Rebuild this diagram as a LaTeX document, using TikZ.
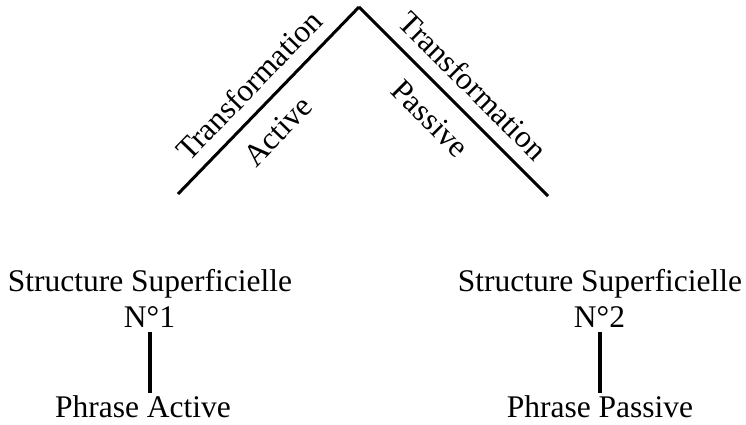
\documentclass[tikz,border=0pt]{standalone}
\usepackage{fontspec}
\setmainfont{Liberation Serif}
\usepackage{tikz}
\tikzset{
    branch/.style={line width=3pt}, % 定义两条分支线的样式
    stem/.style={line width=4pt}, % 定义竖线的样式
    leaf/.style={anchor=base} % 定义底部文字的样式
}

\begin{document}
\begin{tikzpicture}[x=1pt, y=1pt, font=\fontsize{31.5}{36}\selectfont]
            \useasboundingbox (0,0) rectangle (746,425);
            \coordinate (top) at (359,418);
            \coordinate (lend) at (178,231);
            \coordinate (rend) at (548,229);

            \draw[branch] (lend) -- (top)
                node[pos=0.49, sloped, above, inner sep=12pt] (tl) {Transformation}
                node[pos=0.44, sloped, below, inner sep=16pt] (al) {Active};
            \draw[branch] (top) -- (rend)
                node[pos=0.51, sloped, above, inner sep=12.5pt] (tr) {Transformation}
                node[pos=0.484, sloped, below, inner sep=16.5pt] (pr) {Passive};

            \node[leaf] (ss1) at (150,133) {Structure Superficielle};
            \node[leaf] (n1) at (149.5,97) {N°1};
            \node[leaf] (pa) at (143,7) {Phrase Active};
            \node[leaf] (ss2) at (600,133) {Structure Superficielle};
            \node[leaf] (n2) at (599.5,97) {N°2};
            \node[leaf] (pp) at (600,7) {Phrase Passive};

            \draw[stem] (n1.south) -- (n1.south |- pa.north);
            \draw[stem] (n2.south) -- (n2.south |- pp.north);
        \end{tikzpicture}
\end{document}
